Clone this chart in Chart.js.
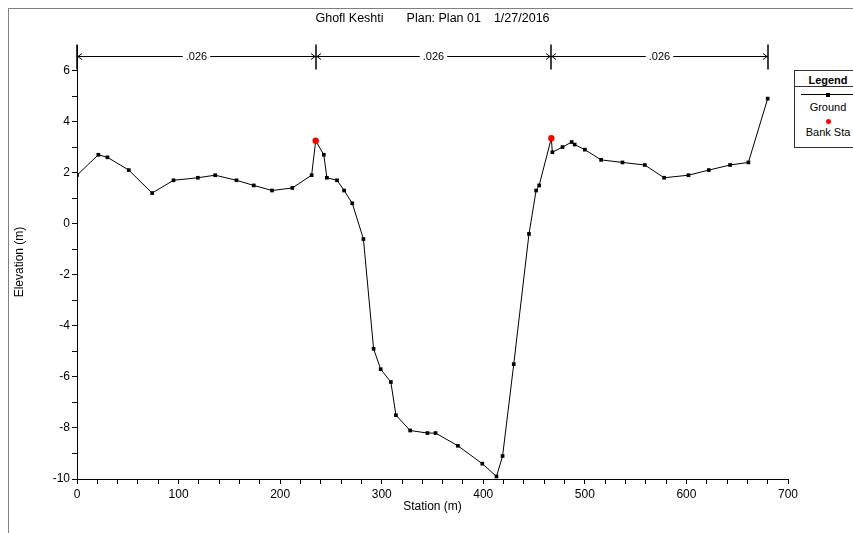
<!DOCTYPE html>
<html>
<head>
<meta charset="utf-8">
<script src="https://cdn.jsdelivr.net/npm/chart.js@4.4.1/dist/chart.umd.min.js"></script>
<style>
  html, body { margin: 0; padding: 0; background: #fff; }
  #wrap { position: relative; width: 853px; height: 533px; overflow: hidden; }
  #frame { position: absolute; left: 8px; top: 8px; right: -2px; bottom: -2px; border-left: 1px solid #7f7f7f; border-top: 1px solid #7f7f7f; }
  #legend { position: absolute; left: 794px; top: 70px; width: 70px; height: 76px; border: 1px solid #333; background: #fff;
            font-family: "Liberation Sans", Arial, sans-serif; font-size: 11px; color: #000; }
  #legend .hd { position: absolute; left: 0; width: 66px; top: 3px; text-align: center; font-weight: bold; }
  #legend .sep { position: absolute; left: 0; right: 0; top: 15px; border-top: 1px solid #333; }
  #legend .gl { position: absolute; left: 6px; right: 0; top: 23px; border-top: 1px solid #000; }
  #legend .gm { position: absolute; left: 31px; top: 22px; width: 4px; height: 4px; background: #000; }
  #legend .gt { position: absolute; left: 0; width: 66px; top: 30px; text-align: center; }
  #legend .bm { position: absolute; left: 31px; top: 48px; width: 5px; height: 5px; border-radius: 50%; background: #f00; }
  #legend .bt { position: absolute; left: 0; width: 66px; top: 55px; text-align: center; }
</style>
</head>
<body>
<div id="wrap">
  <canvas id="chart" width="853" height="533"></canvas>
  <div id="frame"></div>
  <div id="legend">
    <div class="hd">Legend</div>
    <div class="sep"></div>
    <div class="gl"></div><div class="gm"></div>
    <div class="gt">Ground</div>
    <div class="bm"></div>
    <div class="bt">Bank Sta</div>
  </div>
</div>
<script>
const stations = [0, 21, 30, 51, 74, 95, 119, 136, 157, 174, 192, 212, 231, 235, 243, 246, 256, 263, 271, 282,
                  292, 299, 309, 314, 328, 345, 353, 375, 399, 413, 419, 430, 445, 452, 455, 467, 468, 478, 487, 490,
                  500, 516, 537, 559, 578, 602, 622, 643, 661, 680];
const elevations = [1.9, 2.7, 2.6, 2.1, 1.2, 1.7, 1.8, 1.9, 1.7, 1.5, 1.3, 1.4, 1.9, 3.25, 2.7, 1.8, 1.7, 1.3, 0.8, -0.6,
                    -4.9, -5.7, -6.2, -7.5, -8.1, -8.2, -8.2, -8.7, -9.4, -9.9, -9.1, -5.5, -0.4, 1.3, 1.5, 3.35, 2.8, 3.0, 3.2, 3.1,
                    2.9, 2.5, 2.4, 2.3, 1.8, 1.9, 2.1, 2.3, 2.4, 4.9];
const bankStations = [235, 467];
const bankElevations = [3.25, 3.35];

// Manning's n breaks along the section
const nStations = [0, 235, 467, 680];
const nValues = [".026", ".026", ".026"];
const nElevation = 6.55;

// axis ticks
const xMajorTicks = [0, 100, 200, 300, 400, 500, 600, 700];
const xMinorStep = 20;
const yMajorTicks = [-10, -8, -6, -4, -2, 0, 2, 4, 6];
const yMinorStep = 1;

const titleParts = ["Ghofl Keshti", "Plan: Plan 01", "1/27/2016"];
const xTitle = "Station (m)";
const yTitle = "Elevation (m)";

const FONT = '"Liberation Sans", Arial, sans-serif';

// ------------------ Points ------------------
const groundPoints = stations.map((s, i) => ({ x: s, y: elevations[i] }));
const bankPoints = bankStations.map((s, i) => ({ x: s, y: bankElevations[i] }));

function buildTicks(major, step) {
    const ticks = [];
    for (let v = major[0]; v <= major[major.length - 1] + 1e-9; v += step) {
        ticks.push({ value: Math.round(v * 100) / 100 });
    }
    return ticks;
}

// ------------------ Title, axis titles and Manning's n ------------------
const overlay = {
    id: "overlay",
    afterDraw(chart) {
        const ctx = chart.ctx;
        const area = chart.chartArea;
        const x = chart.scales.x;
        const y = chart.scales.y;
        ctx.save();
        ctx.fillStyle = "#000";
        ctx.strokeStyle = "#000";
        ctx.textBaseline = "middle";

        // title
        ctx.font = "12.5px " + FONT;
        ctx.textAlign = "left";
        const gaps = [23, 13];
        const widths = titleParts.map(t => ctx.measureText(t).width);
        const total = widths.reduce((a, b) => a + b, 0) + gaps[0] + gaps[1];
        let tx = (area.left + area.right) / 2 - total / 2;
        titleParts.forEach((t, i) => {
            ctx.fillText(t, tx, 19);
            tx += widths[i] + (gaps[i] || 0);
        });

        // axis titles
        ctx.font = "12px " + FONT;
        ctx.textAlign = "center";
        ctx.fillText(xTitle, (area.left + area.right) / 2, 507);
        ctx.save();
        ctx.translate(20, (area.top + area.bottom) / 2);
        ctx.rotate(-Math.PI / 2);
        ctx.fillText(yTitle, 0, 0);
        ctx.restore();

        // Manning's n arrows
        const ly = Math.round(y.getPixelForValue(nElevation)) + 0.5;
        ctx.font = "11px " + FONT;
        const px = nStations.map(s => Math.round(x.getPixelForValue(s)));
        ctx.lineWidth = 1.5;
        px.forEach(p => {
            ctx.beginPath();
            ctx.moveTo(p, ly - 12);
            ctx.lineTo(p, ly + 13);
            ctx.stroke();
        });
        ctx.lineWidth = 1;
        for (let i = 0; i < nValues.length; i++) {
            const a = px[i], b = px[i + 1];
            const mid = (a + b) / 2;
            const half = ctx.measureText(nValues[i]).width / 2 + 3;
            ctx.beginPath();
            ctx.moveTo(a, ly); ctx.lineTo(mid - half, ly);
            ctx.moveTo(mid + half, ly); ctx.lineTo(b, ly);
            // left arrowhead pointing left, right arrowhead pointing right
            ctx.moveTo(a + 5, ly - 3); ctx.lineTo(a + 1, ly); ctx.lineTo(a + 5, ly + 3);
            ctx.moveTo(b - 5, ly - 3); ctx.lineTo(b - 1, ly); ctx.lineTo(b - 5, ly + 3);
            ctx.stroke();
            ctx.fillText(nValues[i], mid, ly);
        }
        ctx.restore();
    }
};

// ------------------ Chart ------------------
const ctx = document.getElementById("chart").getContext("2d");
const myChart = new Chart(ctx, {
    type: "line",
    data: {
        datasets: [{
            label: "Bank Sta",
            data: bankPoints,
            showLine: false,
            pointStyle: "circle",
            pointRadius: 3.2,
            pointBackgroundColor: "#ff0000",
            pointBorderColor: "#ff0000",
            pointBorderWidth: 0,
            order: 0,
        }, {
            label: "Ground",
            data: groundPoints,
            borderColor: "#000",
            borderWidth: 1,
            pointStyle: "rect",
            pointRadius: 2.6,
            pointBackgroundColor: "#000",
            pointBorderColor: "#000",
            pointBorderWidth: 0,
            tension: 0,
            order: 1,
        }],
    },
    options: {
        responsive: false,
        animation: false,
        events: [],
        layout: { padding: { left: 0, top: 45, right: 65, bottom: 0 } },
        plugins: { legend: { display: false }, tooltip: { enabled: false }, title: { display: false } },
        scales: {
            x: {
                type: "linear",
                min: 0,
                max: 700,
                afterFit: (s) => { s.height = 54; },
                afterBuildTicks: (s) => { s.ticks = buildTicks(xMajorTicks, xMinorStep); },
                grid: { drawOnChartArea: false, color: "#000", tickLength: 5 },
                border: { color: "#000", width: 1 },
                ticks: {
                    color: "#000",
                    font: { family: FONT, size: 12 },
                    padding: 3,
                    maxRotation: 0,
                    autoSkip: false,
                    callback: (v) => xMajorTicks.includes(v) ? String(v) : "",
                },
            },
            y: {
                type: "linear",
                min: -10,
                max: 7,
                afterFit: (s) => { s.width = 77; },
                afterBuildTicks: (s) => { s.ticks = buildTicks(yMajorTicks, yMinorStep); },
                grid: { drawOnChartArea: false, color: "#000", tickLength: 5 },
                border: { color: "#000", width: 1 },
                ticks: {
                    color: "#000",
                    font: { family: FONT, size: 12 },
                    padding: 2,
                    autoSkip: false,
                    callback: (v) => yMajorTicks.includes(v) ? String(v) : "",
                },
            },
        },
    },
    plugins: [overlay],
});
</script>
</body>
</html>
